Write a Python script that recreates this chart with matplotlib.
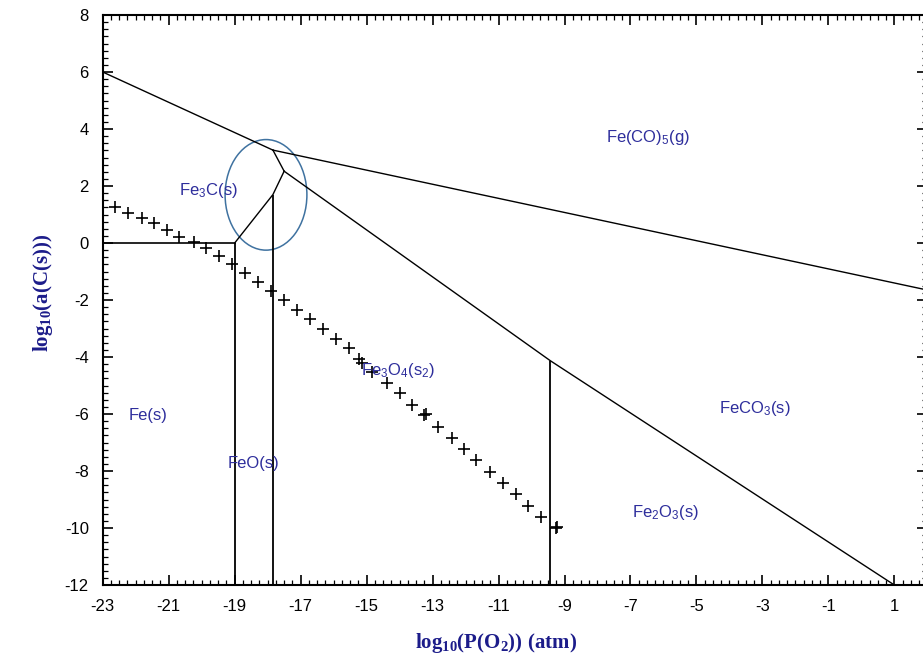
import matplotlib
matplotlib.use('Agg')
import matplotlib.pyplot as plt
from matplotlib.patches import Ellipse
from matplotlib.ticker import MultipleLocator

plt.rcParams['font.family'] = ['Liberation Sans', 'DejaVu Sans']
plt.rcParams['mathtext.fontset'] = 'custom'
plt.rcParams['mathtext.rm'] = 'Liberation Sans'
plt.rcParams['mathtext.it'] = 'Liberation Sans'
plt.rcParams['mathtext.bf'] = 'Liberation Serif:bold'
plt.rcParams['axes.unicode_minus'] = False

# phase boundary lines (log P(O2), log a(C))
top_left_x = [-23, -17.84]
top_left_y = [6.0, 3.26]
top_right_x = [-17.84, 2]
top_right_y = [3.26, -1.65]
t1_t2_x = [-17.84, -17.5]
t1_t2_y = [3.26, 2.52]
fe3c_x = [-17.5, -17.84, -19]
fe3c_y = [2.52, 1.7, 0.0]
carb_x = [-17.5, -9.43, 1]
carb_y = [2.52, -4.13, -12]
fe_fe3c_x = [-23, -19]
fe_fe3c_y = [0.0, 0.0]
vert_x = [-19, -17.84, -9.43]
vert_top = [0.0, 1.7, -4.13]

# '+' markers
cross_x = [-22.63, -22.22, -21.82, -21.44, -21.04, -20.68, -20.23, -19.87, -19.49,
           -19.08, -18.69, -18.29, -17.90, -17.50, -17.11, -16.71, -16.32, -15.93,
           -15.53, -15.22, -15.13, -14.83, -14.39, -13.99, -13.62, -13.25, -13.21,
           -12.84, -12.41, -12.04, -11.68, -11.26, -10.86, -10.48, -10.10, -9.71,
           -9.26, -9.23]
cross_y = [1.25, 1.04, 0.87, 0.69, 0.46, 0.22, 0.02, -0.19, -0.46,
           -0.74, -1.05, -1.37, -1.68, -2.00, -2.35, -2.67, -3.02, -3.37,
           -3.69, -4.07, -4.20, -4.52, -4.90, -5.25, -5.68, -6.04, -6.00,
           -6.45, -6.85, -7.24, -7.61, -8.05, -8.41, -8.82, -9.22, -9.60,
           -10.01, -9.98]

labels = ['Fe(CO)$_5$(g)', 'Fe$_3$C(s)', 'Fe$_3$O$_4$(s$_2$)', 'Fe(s)', 'FeO(s)',
          'FeCO$_3$(s)', 'Fe$_2$O$_3$(s)']
label_x = [-6.47, -19.8, -14.04, -21.63, -18.44, -3.22, -5.95]
label_y = [3.72, 1.86, -4.46, -6.04, -7.72, -5.79, -9.44]

fig = plt.figure(figsize=(9.23, 6.62), dpi=100)
ax = fig.add_axes([0.1113, 0.1163, 0.8934, 0.861])

lc = 'black'
ax.plot(top_left_x, top_left_y, color=lc, lw=1.0)
ax.plot(top_right_x, top_right_y, color=lc, lw=1.0)
ax.plot(t1_t2_x, t1_t2_y, color=lc, lw=1.0)
ax.plot(fe3c_x, fe3c_y, color=lc, lw=1.0)
ax.plot(carb_x, carb_y, color=lc, lw=1.0)
ax.plot(fe_fe3c_x, fe_fe3c_y, color=lc, lw=1.2)
ax.vlines(vert_x, -12, vert_top, color=lc, lw=1.3)

ax.plot(cross_x, cross_y, '+', color='black', ms=9, mew=1.2, ls='none')

txt_color = '#2e2e9c'
for s, x, y in zip(labels, label_x, label_y):
    ax.text(x, y, s, color=txt_color, fontsize=12, ha='center', va='center')

ax.add_patch(Ellipse((-18.05, 1.69), 2.48, 3.88, fill=False,
                     edgecolor='#3f72a0', lw=1.1))

ax.set_xlim(-23, 2)
ax.set_ylim(-12, 8)
ax.xaxis.set_major_locator(MultipleLocator(2))
ax.xaxis.set_minor_locator(MultipleLocator(0.25))
ax.yaxis.set_major_locator(MultipleLocator(2))
ax.yaxis.set_minor_locator(MultipleLocator(0.25))
ax.set_xticks([-23, -21, -19, -17, -15, -13, -11, -9, -7, -5, -3, -1, 1])
ax.tick_params(which='both', direction='in', top=True, right=True,
               labelsize=12, colors='black')
ax.tick_params(which='major', length=7, width=1.2, pad=10)
ax.tick_params(which='minor', length=3.5, width=0.9)
for sp in ax.spines.values():
    sp.set_linewidth(1.5)

ax.set_xlabel(r'$\mathbf{log_{10}(P(O_2))\ (atm)}$', fontsize=15, color='#1c1c8a')
ax.set_ylabel(r'$\mathbf{log_{10}(a(C(s)))}$', fontsize=15, color='#1c1c8a')
ax.xaxis.set_label_coords(0.477, -0.08)
ax.yaxis.set_label_coords(-0.058, 0.512)

fig.savefig('out.png', dpi=100)
